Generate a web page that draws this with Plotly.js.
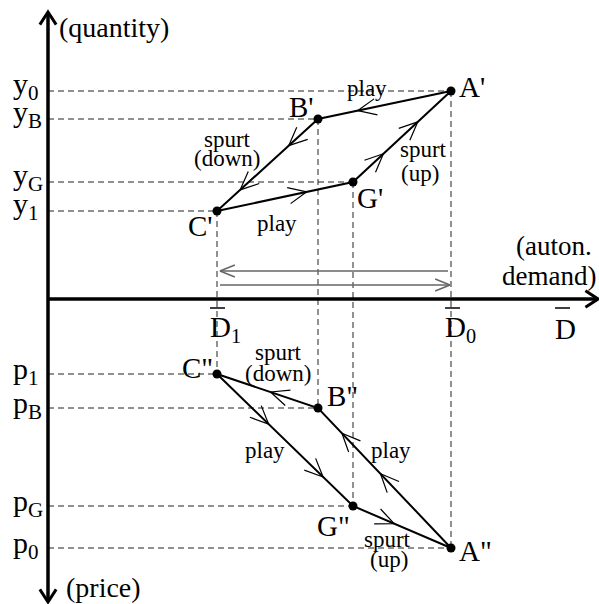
<!DOCTYPE html>
<html>
<head>
<meta charset="utf-8">
<script src="https://cdn.plot.ly/plotly-3.0.1.min.js"></script>
<style>html,body{margin:0;padding:0;background:#fff}#plot{width:599px;height:604px}</style>
</head>
<body>
<div id="plot"></div>
<script>
// autonomous demand levels on the horizontal axis
var D0 = 403, D1 = 169, DB = 270, DG = 305;

// cycle points A -> B -> C -> G -> A
var pointNames = ["A", "B", "C", "G"];
var pointD = [D0, DB, D1, DG];
var quantity = [208, 180, 88, 117];   // y0, yB, y1, yG  (upper panel)
var price = [249, 109, 75, 207];      // p0, pB, p1, pG  (lower panel, drawn downwards)

// where the little arrow heads sit on each leg (fraction along the leg)
var upperHeads = [[0.70], [0.29, 0.77], [0.66], [0.31, 0.66]];
var lowerHeads = [[0.53, 0.82], [0.47], [0.38, 0.78], [0.42]];

var serif = "Liberation Serif, Times New Roman, serif";
var traces = [];

// open chevron at fraction t of the segment (x1,y1)->(x2,y2); 1 data unit = 1px
function chevron(x1, y1, x2, y2, t, len, ang) {
    var dx = x2 - x1, dy = y2 - y1;
    var n = Math.sqrt(dx * dx + dy * dy);
    var ux = dx / n, uy = dy / n;
    var tx = x1 + t * dx, ty = y1 + t * dy;
    var a = ang * Math.PI / 180;
    var xs = [], ys = [];
    [a, -a].forEach(function (s, i) {
        var rx = ux * Math.cos(s) - uy * Math.sin(s);
        var ry = ux * Math.sin(s) + uy * Math.cos(s);
        if (i == 0) { xs.push(tx - len * rx); ys.push(ty - len * ry); xs.push(tx); ys.push(ty); }
        else { xs.push(tx - len * rx); ys.push(ty - len * ry); }
    });
    xs.push(null); ys.push(null);
    return {x: xs, y: ys};
}

function lineTrace(x, y, color, width, dash) {
    return {x: x, y: y, mode: "lines", type: "scatter", hoverinfo: "skip",
        line: {color: color, width: width, dash: dash || "solid"}};
}

// dashed guide lines
var dashX = [], dashY = [];
for (var i = 0; i < pointD.length; i++) {
    dashX.push(0, pointD[i], null, 0, pointD[i], null, pointD[i], pointD[i], null);
    dashY.push(quantity[i], quantity[i], null, -price[i], -price[i], null, quantity[i], -price[i], null);
}
traces.push(lineTrace(dashX, dashY, "#222", 1, "6px,4px"));

// axes with arrow heads
traces.push(lineTrace([0, 0], [-302, 286], "black", 3.5));
traces.push(lineTrace([0, 549], [0, 0], "black", 3.5));
var axHeads = [chevron(0, 0, 0, 287, 1, 15, 33), chevron(0, 0, 0, -303, 1, 15, 33), chevron(0, 0, 550, 0, 1, 15, 33)];
axHeads.forEach(function (h) { traces.push(lineTrace(h.x, h.y, "black", 3)); });

// shift of autonomous demand (double arrow)
traces.push(lineTrace([D0 - 3, D1 + 3], [28, 28], "#666", 1.5));
traces.push(lineTrace([D1 + 3, D0 - 1], [14, 14], "#666", 1.5));
var sh1 = chevron(D0, 28, D1 + 3, 28, 1, 16, 22), sh2 = chevron(D1, 14, D0 - 1, 14, 1, 16, 22);
traces.push(lineTrace(sh1.x, sh1.y, "#666", 1.5));
traces.push(lineTrace(sh2.x, sh2.y, "#666", 1.5));

// the two cycles
function cycle(ys, heads) {
    var lx = [], ly = [], hx = [], hy = [];
    for (var i = 0; i <= pointD.length; i++) {
        lx.push(pointD[i % 4]); ly.push(ys[i % 4]);
    }
    for (var j = 0; j < 4; j++) {
        var k = (j + 1) % 4;
        heads[j].forEach(function (t) {
            var c = chevron(pointD[j], ys[j], pointD[k], ys[k], t, 20, 24);
            hx = hx.concat(c.x); hy = hy.concat(c.y);
        });
    }
    traces.push(lineTrace(lx, ly, "black", 2));
    traces.push(lineTrace(hx, hy, "black", 1.2));
    traces.push({x: pointD, y: ys, mode: "markers", type: "scatter", hoverinfo: "skip",
        marker: {color: "black", size: 9}});
}
cycle(quantity, upperHeads);
cycle(price.map(function (p) { return -p; }), lowerHeads);

var ann = [];
function txt(text, x, y, size, xa, ya) {
    ann.push({text: text, x: x, y: y, xref: "x", yref: "y", showarrow: false,
        xanchor: xa || "center", yanchor: ya || "middle",
        font: {family: serif, size: size, color: "black"}});
}

// axis names
txt("(quantity)", 9, 272, 28, "left");
txt("(price)", 16, -288, 28, "left");
txt("(auton.", 546, 53, 27, "right");
txt("demand)", 550, 23, 27, "right");

// D-bar labels: letter plus a small bar over it
var barX = [], barY = [];
function dbar(x, y, sub) {
    txt("D" + (sub ? "<sub>" + sub + "</sub>" : ""), x, y, 29, "left");
    barX.push(x + 2, x + 17, null);
    barY.push(-9, -9, null);
}
dbar(D1 - 9, -30, "1");
dbar(D0 - 8, -30, "0");
dbar(505, -30, "");
traces.push(lineTrace(barX, barY, "black", 1.5));

// level labels on the vertical axis
var qLab = ["y<sub>0</sub>", "y<sub>B</sub>", "y<sub>1</sub>", "y<sub>G</sub>"];
var pLab = ["p<sub>0</sub>", "p<sub>B</sub>", "p<sub>1</sub>", "p<sub>G</sub>"];
for (var m = 0; m < 4; m++) {
    txt(qLab[m], -37, quantity[m] + 5, 30, "left");
    txt(pLab[m], -37, -price[m] + 3, 30, "left");
}

// point labels
txt("A'", D0 + 6, quantity[0] + 4, 29, "left");
txt("B'", DB - 2, quantity[1] + 12, 29, "right");
txt("C'", D1 - 2, quantity[2] - 15, 29, "right");
txt("G'", DG + 2, quantity[3] - 16, 29, "left");
txt("A\"", D0 + 6, -price[0] - 3, 29, "left");
txt("B\"", DB + 7, -price[1] + 12, 29, "left");
txt("C\"", D1 - 2, -price[2] + 6, 29, "right");
txt("G\"", DG - 1, -price[3] - 20, 29, "right");

// leg labels
txt("play", 319, 211, 23);
txt("spurt", 179, 160, 23);
txt("(down)", 179, 141, 23);
txt("spurt", 375, 150, 23);
txt("(up)", 372, 126, 23);
txt("play", 229, 76, 23);
txt("spurt", 230, -53, 23);
txt("(down)", 230, -74, 23);
txt("play", 217, -151, 23);
txt("play", 343, -151, 23);
txt("spurt", 339, -240, 23);
txt("(up)", 341, -260, 23);

var layout = {
    width: 599, height: 604,
    margin: {l: 0, r: 0, t: 0, b: 0},
    paper_bgcolor: "white", plot_bgcolor: "white",
    showlegend: false,
    xaxis: {range: [-48, 551], visible: false, fixedrange: true},
    yaxis: {range: [-305, 299], visible: false, fixedrange: true},
    annotations: ann
};
Plotly.newPlot("plot", traces, layout, {displayModeBar: false, staticPlot: true});
</script>
</body>
</html>
